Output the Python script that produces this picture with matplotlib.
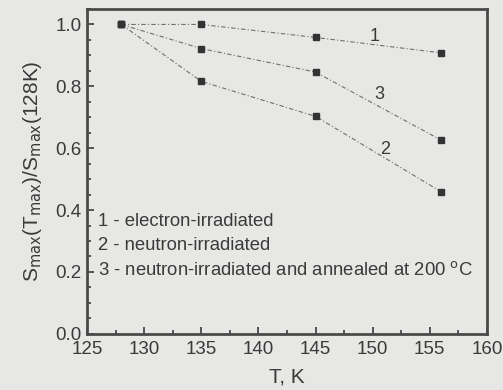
import numpy as np
import matplotlib
matplotlib.use('Agg')
import matplotlib.pyplot as plt
from matplotlib.ticker import MultipleLocator

plt.rcParams['font.family'] = ['Liberation Sans', 'DejaVu Sans']

# data
temps = [128, 135, 145, 156]
s_electron = [1.0, 1.0, 0.958, 0.908]
s_neutron = [1.0, 0.816, 0.703, 0.459]
s_annealed = [1.0, 0.922, 0.846, 0.626]

legend_lines = ['1 - electron-irradiated',
                '2 - neutron-irradiated',
                '3 - neutron-irradiated and annealed at 200 $^{\\rm o}$C']

paper = '#e7e7e5'
ink = '#3a3a3a'

fig = plt.figure(figsize=(5.03, 3.90), dpi=100, facecolor=paper)
ax = fig.add_axes([0.173, 0.144, 0.795, 0.833], facecolor=paper)

for ys in (s_electron, s_neutron, s_annealed):
    ax.plot(temps, ys, color='#707070', lw=0.8, ls=(0, (4, 2, 1, 2)),
            marker='s', ms=5, mfc='#333333', mec='#333333')

ax.text(150.2, 0.961, '1', fontsize=13, color=ink, ha='center', va='center')
ax.text(150.6, 0.773, '3', fontsize=13, color=ink, ha='center', va='center')
ax.text(151.1, 0.595, '2', fontsize=13, color=ink, ha='center', va='center')

for i, s in enumerate(legend_lines):
    ax.text(126.0, 0.363 - i * 0.078, s, fontsize=13.3, color=ink, ha='left', va='center')

ax.set_xlim(125, 160)
ax.set_ylim(0, 1.05)
ax.xaxis.set_major_locator(MultipleLocator(5))
ax.xaxis.set_minor_locator(MultipleLocator(2.5))
ax.yaxis.set_major_locator(MultipleLocator(0.2))
ax.yaxis.set_minor_locator(MultipleLocator(0.05))
ax.tick_params(which='both', direction='in', colors=ink, labelsize=13.5, width=1.2)
ax.tick_params(which='major', length=5)
ax.tick_params(which='minor', length=3)
ax.tick_params(axis='x', pad=5)
ax.tick_params(axis='y', pad=4)
ax.yaxis.set_major_formatter(matplotlib.ticker.FormatStrFormatter('%.1f'))
for sp in ax.spines.values():
    sp.set_color('#4a4a4a')
    sp.set_linewidth(2)

ax.set_xlabel('T, K', fontsize=15, color=ink, labelpad=7)
ax.set_ylabel('S$_{\\rm max}$(T$_{\\rm max}$)/S$_{\\rm max}$(128K)', fontsize=15, color=ink, labelpad=8)

fig.savefig('out.png', dpi=100, facecolor=paper)
